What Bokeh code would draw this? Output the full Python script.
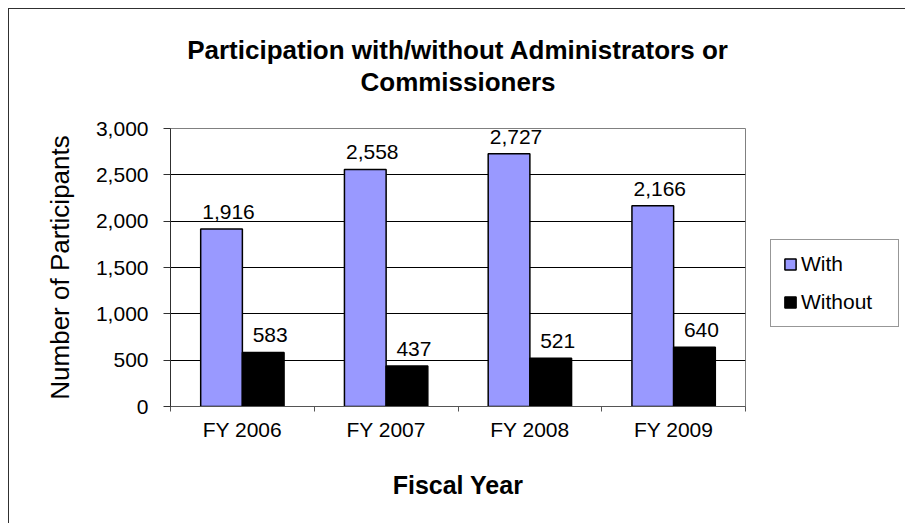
from bokeh.plotting import figure
from bokeh.layouts import row
from bokeh.models import (ColumnDataSource, Range1d, LinearAxis, FixedTicker, Title,
                          NumeralTickFormatter, Legend, LegendItem, LabelSet)
from bokeh.transform import dodge
from bokeh.core.properties import value
from bokeh.embed import file_html
from bokeh.resources import INLINE

# ---- data ----
years = ["FY 2006", "FY 2007", "FY 2008", "FY 2009"]
with_vals = [1916, 2558, 2727, 2166]
without_vals = [583, 437, 521, 640]
y_ticks = [0, 500, 1000, 1500, 2000, 2500, 3000]
series_names = ["With", "Without"]
series_colors = ["#9999FF", "#000000"]
title_lines = ["Participation with/without Administrators or", "Commissioners"]
x_title = "Fiscal Year"
y_title = "Number of Participants"

FONT = "Liberation Sans"
n = len(years)

src = ColumnDataSource(dict(
    year=years,
    idx=list(range(n)),
    with_v=with_vals,
    without_v=without_vals,
    with_lbl=[f"{v:,}" for v in with_vals],
    without_lbl=[f"{v:,}" for v in without_vals],
))

H = 514
p = figure(width=738, height=H, x_range=Range1d(0, n), y_range=Range1d(y_ticks[0], y_ticks[-1]),
           x_axis_type=None, output_backend="svg", toolbar_location=None,
           min_border_left=161, min_border_right=2, min_border_top=119,
           min_border_bottom=117, background_fill_color="white",
           border_fill_color="white")
p.outline_line_color = "#808080"
p.outline_line_width = 1

# titles: blank spacer (closest to frame), second line, first line
p.title.text = ""
p.add_layout(Title(text=".", text_font_size="10px", text_color="white", standoff=22), "above")
for line in (title_lines[1], title_lines[0]):
    p.add_layout(Title(text=line, align="center", text_font=FONT,
                       text_font_size="26px", text_font_style="bold",
                       text_color="black", standoff=0), "above")

# x axis: category labels at centres, tick marks at category boundaries
xaxis = LinearAxis(ticker=FixedTicker(ticks=[i + 0.5 for i in range(n)],
                                      minor_ticks=list(range(n + 1))),
                   major_label_overrides={i + 0.5: years[i] for i in range(n)})
xaxis.major_tick_out = 0
xaxis.major_tick_in = 0
xaxis.minor_tick_out = 5
xaxis.minor_tick_in = 0
xaxis.minor_tick_line_color = "#555555"
xaxis.axis_line_color = "#555555"
xaxis.major_label_standoff = 6
xaxis.major_label_text_font = FONT
xaxis.major_label_text_font_size = "21px"
xaxis.major_label_text_color = "black"
xaxis.axis_label = x_title
xaxis.axis_label_text_font = FONT
xaxis.axis_label_text_font_size = "25px"
xaxis.axis_label_text_font_style = "bold"
xaxis.axis_label_text_color = "black"
xaxis.axis_label_standoff = 27
p.add_layout(xaxis, "below")

# y axis
ya = p.yaxis[0]
ya.ticker = FixedTicker(ticks=y_ticks)
ya.formatter = NumeralTickFormatter(format="0,0")
ya.major_tick_out = 7
ya.major_tick_in = 0
ya.minor_tick_out = 0
ya.minor_tick_in = 0
ya.axis_line_color = "#303030"
ya.major_tick_line_color = "#303030"
ya.major_label_standoff = 15
ya.major_label_text_font = FONT
ya.major_label_text_font_size = "21px"
ya.major_label_text_color = "black"
ya.axis_label = y_title
ya.axis_label_text_font = FONT
ya.axis_label_text_font_size = "26px"
ya.axis_label_text_font_style = "normal"
ya.axis_label_text_color = "black"
ya.axis_label_standoff = 18

p.ygrid[0].ticker = FixedTicker(ticks=y_ticks)
p.ygrid[0].grid_line_color = "black"
p.ygrid[0].grid_line_width = 1

# bars
off = 0.145
bw = 0.29
bar_style = dict(width=bw, source=src, line_color="black", line_width=1.5)
r1 = p.vbar(x=dodge("idx", 0.5 - off), top="with_v", fill_color=series_colors[0], **bar_style)
r2 = p.vbar(x=dodge("idx", 0.5 + off), top="without_v", fill_color=series_colors[1], **bar_style)

for col, lbl, sign in (("with_v", "with_lbl", -1), ("without_v", "without_lbl", 1)):
    ls = LabelSet(x=dodge("idx", 0.5 + sign * off), y=col, text=lbl, source=src,
                  text_align="center", text_baseline="alphabetic", x_offset=7, y_offset=10,
                  text_font=value(FONT), text_font_size="21px", text_color="black")
    p.add_layout(ls)

# legend area (separate panel to the right of the plot; frames are aligned)
q = figure(width=158, height=H, x_range=Range1d(0, 1), y_range=Range1d(0, 1),
           x_axis_type=None, y_axis_type=None, output_backend="svg",
           toolbar_location=None, min_border=0, background_fill_color="white",
           border_fill_color="white")
q.outline_line_color = None
q1 = q.vbar(x=dodge("idx", 0.5 - off), top="with_v", fill_color=series_colors[0],
            visible=False, **bar_style)
q2 = q.vbar(x=dodge("idx", 0.5 + off), top="without_v", fill_color=series_colors[1],
            visible=False, **bar_style)
legend = Legend(items=[LegendItem(label=series_names[0], renderers=[q1]),
                       LegendItem(label=series_names[1], renderers=[q2])],
                location=(23, 79), orientation="vertical", margin=0, padding=12,
                spacing=14, label_height=20, glyph_width=14, glyph_height=14,
                label_standoff=4, label_width=85, click_policy="none",
                label_text_font=FONT, label_text_font_size="21px",
                label_text_color="black",
                border_line_color="#303030", border_line_width=1,
                background_fill_color="white")
q.add_layout(legend)

layout = row(p, q, spacing=0)
layout.styles = {"margin-left": "8px", "margin-top": "8px",
                 "border-left": "1px solid #303030", "border-top": "1px solid #303030"}

open("out.html", "w").write(file_html(layout, INLINE))
